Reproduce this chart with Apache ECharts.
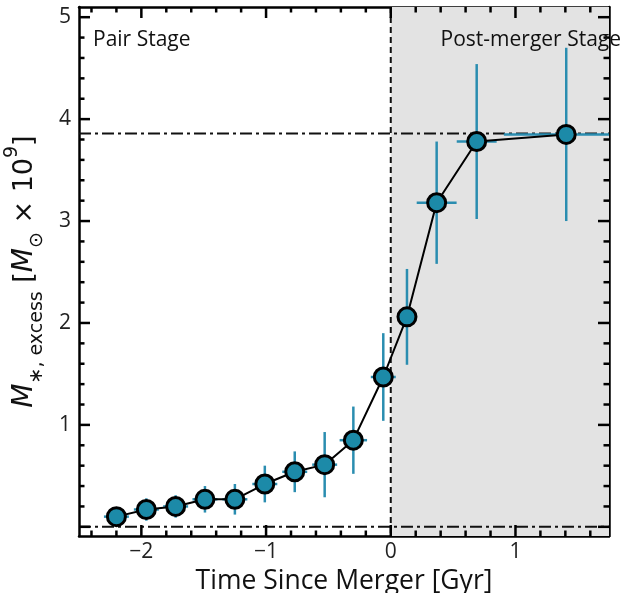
<!DOCTYPE html>
<html><head><meta charset="utf-8">
<script src="https://cdn.jsdelivr.net/npm/echarts@6/dist/echarts.min.js"></script>
<style>html,body{margin:0;padding:0;background:#fff}#c{width:634px;height:593px}</style>
</head><body><div id="c"></div>
<script>
// ---- data ----
const timeGyr    = [-2.20, -1.96, -1.725, -1.49, -1.25, -1.01, -0.77, -0.53, -0.30, -0.06, 0.13, 0.368, 0.689, 1.407];
const massExcess = [0.10, 0.17, 0.20, 0.27, 0.27, 0.42, 0.54, 0.61, 0.85, 1.47, 2.06, 3.18, 3.78, 3.85];
const timeErr    = [0.10, 0.10, 0.10, 0.10, 0.10, 0.10, 0.10, 0.10, 0.11, 0.10, 0.06, 0.16, 0.16, 0.50];
const massErr    = [0.07, 0.11, 0.11, 0.13, 0.15, 0.18, 0.20, 0.32, 0.33, 0.43, 0.47, 0.60, 0.76, 0.85];
const plateauLevel = 3.86;
const baseLevel = 0.0;
const mergerTime = 0;
const xMajorTicks = [-2, -1, 0, 1];
const xMinorTicks = [-2.4, -2.2, -1.8, -1.6, -1.4, -1.2, -0.8, -0.6, -0.4, -0.2, 0.2, 0.4, 0.6, 0.8, 1.2, 1.4, 1.6];
const yMajorTicks = [0, 1, 2, 3, 4, 5];
const yLabelTicks = [1, 2, 3, 4, 5];
const yMinorTicks = [0.2,0.4,0.6,0.8,1.2,1.4,1.6,1.8,2.2,2.4,2.6,2.8,3.2,3.4,3.6,3.8,4.2,4.4,4.6,4.8];
const xRange = [-2.5, 1.75];
const yRange = [-0.09, 5.1];

// ---- style ----
const FONT = 'Open Sans';
const MATH = 'DejaVu Sans';
const MARK = '#1c8aa8';
const ERR = '#2a8db0';
const MAJOR_LEN = 11, MINOR_LEN = 5.5;
const chart = echarts.init(document.getElementById('c'));

function mkAxis(pos, range, labelVals) {
  const ax = {
    type: 'value', position: pos, min: range[0], max: range[1],
    axisLine: {show: true, onZero: false, lineStyle: {color: '#000', width: 2.5}},
    axisTick: {show: false},
    axisLabel: {show: false},
    splitLine: {show: false}
  };
  if (labelVals) {
    ax.axisLabel = {show: true, customValues: labelVals, fontFamily: FONT, fontSize: 21, color: '#222',
      margin: (pos === 'left' ? 8 : 6), formatter: v => String(v).replace('-', '\u2212')};
  }
  return ax;
}

const xMain = mkAxis('bottom', xRange, xMajorTicks);
xMain.name = 'Time Since Merger [Gyr]';
xMain.nameLocation = 'middle';
xMain.nameGap = 27;
xMain.nameTextStyle = {fontFamily: FONT, fontSize: 26.5, color: '#111'};

const yMain = mkAxis('left', yRange, yLabelTicks);
yMain.name = '{it|M}{sub|\u2217, excess} {n|[}{it|M}{sub|\u2299} {n|\u00d7 10}{sup|9}{n|]}';
yMain.nameLocation = 'middle';
yMain.nameRotate = 90;
yMain.nameGap = 37;
yMain.nameTextStyle = {
  fontFamily: MATH, fontSize: 27, color: '#111',
  rich: {
    it: {fontFamily: MATH, fontSize: 28, fontStyle: 'italic', color: '#111', lineHeight: 34, verticalAlign: 'middle'},
    n: {fontFamily: MATH, fontSize: 27, color: '#111', lineHeight: 34, verticalAlign: 'middle'},
    sub: {fontFamily: MATH, fontSize: 19, color: '#111', lineHeight: 22, verticalAlign: 'bottom', padding: [0, 0, -5, 0]},
    sup: {fontFamily: MATH, fontSize: 19, color: '#111', lineHeight: 22, verticalAlign: 'top', padding: [-5, 0, 0, 0]}
  }
};

const pts = timeGyr.map((x, i) => [x, massExcess[i]]);
const errData = timeGyr.map((x, i) => [x, massExcess[i], timeErr[i], massErr[i]]);
const refData = [[mergerTime, plateauLevel, baseLevel]];

chart.setOption({
  animation: false,
  grid: {left: 79, right: 25, top: 7, bottom: 57, containLabel: false, outerBoundsMode: 'none'},
  xAxis: [xMain, mkAxis('top', xRange, null)],
  yAxis: [yMain, mkAxis('right', yRange, null)],
  graphic: [
    {type: 'text', left: 93, top: 30, z: 100, style: {text: 'Pair Stage', fontFamily: FONT, fontSize: 21, fill: '#111'}},
    {type: 'text', right: 13, top: 30, z: 100, style: {text: 'Post-merger Stage', fontFamily: FONT, fontSize: 21, fill: '#111'}}
  ],
  series: [
    {
      // shaded post-merger region and reference lines
      type: 'custom', xAxisIndex: 0, yAxisIndex: 0, z: 1, clip: true, silent: true,
      data: refData,
      renderItem: function (params, api) {
        const xm = api.value(0), yp = api.value(1), yb = api.value(2);
        const tl = api.coord([xm, yRange[1]]), br = api.coord([xRange[1], yRange[0]]);
        const pl = api.coord([xRange[0], yp]), pr = api.coord([xRange[1], yp]);
        const bl = api.coord([xRange[0], yb]), brr = api.coord([xRange[1], yb]);
        const dd = {stroke: '#111', lineWidth: 2, lineDash: [12, 4, 3, 4]};
        return {type: 'group', children: [
          {type: 'rect', shape: {x: tl[0], y: tl[1], width: br[0] - tl[0], height: br[1] - tl[1]}, style: {fill: '#e3e3e3'}},
          {type: 'line', shape: {x1: tl[0], y1: tl[1], x2: tl[0], y2: br[1]}, style: {stroke: '#111', lineWidth: 2, lineDash: [6, 4]}},
          {type: 'line', shape: {x1: pl[0], y1: pl[1], x2: pr[0], y2: pr[1]}, style: dd},
          {type: 'line', shape: {x1: bl[0], y1: bl[1], x2: brr[0], y2: brr[1]}, style: dd}
        ]};
      }
    },
    {
      // inside ticks on all four sides, placed through the axis scales
      type: 'custom', xAxisIndex: 0, yAxisIndex: 0, z: 6, clip: false, silent: true,
      data: [[0]],
      renderItem: function (params, api) {
        const kids = [];
        const st = {stroke: '#000', lineWidth: 2.5};
        const xt = xMajorTicks.map(v => [v, MAJOR_LEN]).concat(xMinorTicks.map(v => [v, MINOR_LEN]));
        const yt = yMajorTicks.map(v => [v, MAJOR_LEN]).concat(yMinorTicks.map(v => [v, MINOR_LEN]));
        xt.forEach(([v, len]) => {
          const b = api.coord([v, yRange[0]]), t = api.coord([v, yRange[1]]);
          kids.push({type: 'line', shape: {x1: b[0], y1: b[1], x2: b[0], y2: b[1] - len}, style: st});
          kids.push({type: 'line', shape: {x1: t[0], y1: t[1], x2: t[0], y2: t[1] + len}, style: st});
        });
        yt.forEach(([v, len]) => {
          const l = api.coord([xRange[0], v]), r = api.coord([xRange[1], v]);
          kids.push({type: 'line', shape: {x1: l[0], y1: l[1], x2: l[0] + len, y2: l[1]}, style: st});
          kids.push({type: 'line', shape: {x1: r[0], y1: r[1], x2: r[0] - len, y2: r[1]}, style: st});
        });
        return {type: 'group', children: kids};
      }
    },
    {
      type: 'custom', xAxisIndex: 0, yAxisIndex: 0, z: 3, clip: true, silent: true,
      data: errData,
      renderItem: function (params, api) {
        const x = api.value(0), y = api.value(1), ex = api.value(2), ey = api.value(3);
        const l = api.coord([x - ex, y]), r = api.coord([x + ex, y]);
        const b = api.coord([x, y - ey]), t = api.coord([x, y + ey]);
        const st = {stroke: ERR, lineWidth: 2.5};
        return {type: 'group', children: [
          {type: 'line', shape: {x1: l[0], y1: l[1], x2: r[0], y2: r[1]}, style: st},
          {type: 'line', shape: {x1: b[0], y1: b[1], x2: t[0], y2: t[1]}, style: st}
        ]};
      }
    },
    {
      type: 'line', xAxisIndex: 0, yAxisIndex: 0, z: 4, data: pts, silent: true,
      symbol: 'circle', symbolSize: 18,
      lineStyle: {color: '#000', width: 2},
      itemStyle: {color: MARK, borderColor: '#000', borderWidth: 3}
    }
  ]
});
</script></body></html>
